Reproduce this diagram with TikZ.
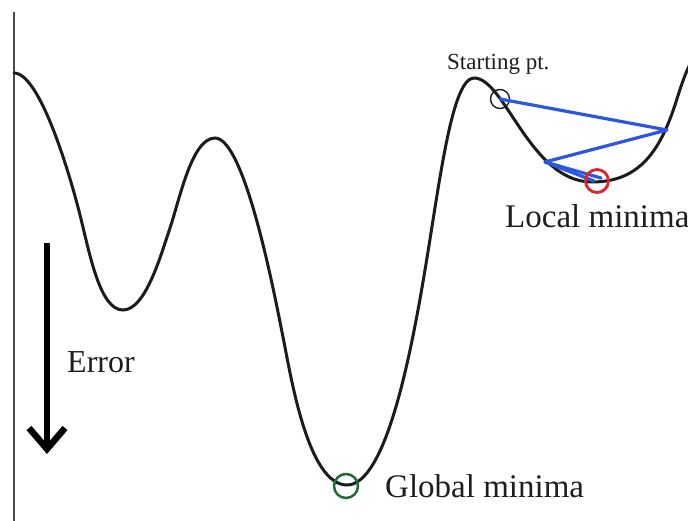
\documentclass[tikz,border=0pt]{standalone}
\usepackage{fontspec}
\setmainfont{Liberation Serif}
\definecolor{curvecol}{HTML}{1C1C1C}
\definecolor{axiscol}{HTML}{4A4A4A}
\definecolor{textcol}{HTML}{1E1E1E}
\definecolor{stepcol}{HTML}{2D56E0}
\definecolor{redcol}{HTML}{E0202A}
\definecolor{greencol}{HTML}{1E6B35}
\begin{document}
\begin{tikzpicture}[x=1pt,y=-1pt,
  curve/.style={line width=3pt, draw=curvecol, line cap=round},
  lbl/.style={anchor=base west, inner sep=0pt, text=textcol},
  ring/.style={circle, draw, inner sep=0pt},
  gdstep/.style={draw=stepcol, line width=3.2pt, line cap=round, line join=round},
  errarrow/.style={line width=6.5pt, draw=black}]
\useasboundingbox (0,0) rectangle (688,521);
\fill[white] (0,0) rectangle (688,521);

% axis
\coordinate (axtop) at (14,12);
\coordinate (axbot) at (14,521);
\draw[axiscol, line width=1.8pt] (axtop) -- (axbot);

% error surface
\begin{scope}
\clip (0,0) rectangle (688,521);
\draw[curve] (14,73)
  .. controls (40,73) and (70,175) .. (80,215)
  .. controls (90,255) and (100,310) .. (123,310)
  .. controls (145,310) and (160,258) .. (170,228)
  .. controls (180,198) and (192,138) .. (215,138)
  .. controls (245,138) and (275,297) .. (283,337)
  .. controls (291,377) and (308,485) .. (347,485)
  .. controls (385,485) and (410,360) .. (425,270)
  .. controls (440,180) and (452,78) .. (474,78)
  .. controls (505,78) and (530,182) .. (592,182)
  .. controls (640,182) and (660,150) .. (675,105)
  .. controls (682,83) and (686,70) .. (695,55);
\end{scope}

% gradient descent steps
\coordinate (s1) at (667,130);
\coordinate (s2) at (545,162);
\coordinate (s3) at (601,178);
\coordinate (s3b) at (594,181);
\node[ring, draw=curvecol, line width=1.4pt, minimum size=19pt] (start) at (500,99) {};
\draw[gdstep] (start.center) -- (s1) -- (s2) -- (s3);
\draw[gdstep] (s2) -- (s3b);
\node[ring, draw=redcol, line width=2.8pt, minimum size=23pt] (localmin) at (597,181) {};
\node[ring, draw=greencol, line width=2.5pt, minimum size=24pt] (globalmin) at (346,486) {};

% labels
\node[lbl, font=\fontsize{23}{26}\selectfont] (startlbl) at (447,70) {Starting pt.};
\node[lbl, font=\fontsize{33}{38}\selectfont] (locallbl) at (505,228) {Local minima};
\node[lbl, font=\fontsize{33}{38}\selectfont] (globallbl) at (385,497) {Global minima};
\node[lbl, font=\fontsize{32}{36}\selectfont] (errlbl) at (67,372) {Error};

% error arrow
\coordinate (arrtop) at (47,243);
\coordinate (arrtip) at (47,449);
\coordinate (barbl) at (29,428);
\coordinate (barbr) at (65,428);
\draw[errarrow] (arrtop) -- (arrtip);
\draw[errarrow, line join=miter] (barbl) -- (arrtip) -- (barbr);
\end{tikzpicture}
\end{document}
